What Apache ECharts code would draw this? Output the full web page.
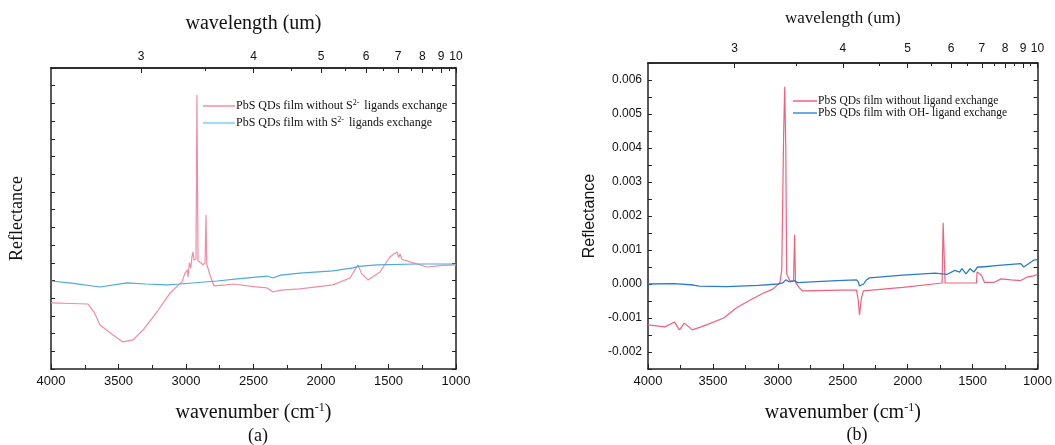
<!DOCTYPE html>
<html><head><meta charset="utf-8">
<script src="https://cdn.jsdelivr.net/npm/echarts@6/dist/echarts.min.js"></script>
<style>html,body{margin:0;padding:0;background:#fff}#c{width:1055px;height:445px}</style>
</head><body><div id="c"></div>
<script>
// ---- tick labels ----
const umTicks = [3, 4, 5, 6, 7, 8, 9, 10];
const umMinor = [3.5, 4.5, 5.5, 6.5, 7.5, 8.5, 9.5];

// ---- panel (a): wavenumber (cm-1) and reflectance (arb. units) ----
const aPinkWn  = [4000,3850,3726,3680,3637,3541,3467,3393,3319,3215,3119,3030,3007,2990,2985,2975,2965,2956,2948,2941,2926,2919,2911,2890,2874,2859,2852,2846,2822,2793,2700,2652,2500,2400,2356,2300,2156,1911,1785,1726,1700,1652,1563,1489,1460,1437,1425,1415,1400,1341,1215,1100,1000];
const aPinkVal = [3.73,3.70,3.67,3.2,2.49,1.92,1.53,1.64,2.20,3.22,4.29,4.92,5.42,5.6,5.2,6.0,5.7,6.33,6.61,6.16,6.2,15.48,6.1,6.0,5.88,6.0,8.70,5.9,5.31,4.69,4.75,4.80,4.65,4.58,4.35,4.45,4.52,4.75,5.14,5.88,5.4,5.03,5.48,6.33,6.5,6.61,6.3,6.5,6.2,6.05,5.76,5.85,5.88];
const aBlueWn  = [4000,3850,3637,3437,3300,3141,3044,2770,2600,2400,2356,2300,2156,1911,1763,1720,1585,1289,1000];
const aBlueVal = [4.97,4.85,4.63,4.86,4.8,4.75,4.80,4.97,5.1,5.25,5.14,5.3,5.42,5.54,5.71,5.8,5.88,5.93,5.93];

// ---- panel (b) ----
const bPinkWn  = [4000,3871,3795,3758,3720,3659,3591,3515,3417,3318,3212,3114,3038,2985,2970,2955,2947,2939,2932,2909,2879,2871,2864,2833,2811,2508,2394,2380,2371,2356,2341,2038,1735,1727,1712,1470,1466,1432,1409,1333,1280,1205,1129,1083,1030,1000];
const bPinkVal = [-0.0012,-0.00126,-0.00112,-0.00135,-0.00115,-0.00135,-0.00126,-0.00115,-0.0010,-0.0007,-0.00047,-0.00027,-0.00015,0.00003,0.0004,0.0045,0.0058,0.0040,0.0003,0.0001,0.00008,0.00145,0.00005,-0.00012,-0.0002,-0.00018,-0.00018,-0.0005,-0.00091,-0.0004,-0.0002,-0.0001,0.00003,0.0018,0.00003,0.00003,0.00035,0.00026,0.00005,0.00005,0.00015,0.00012,0.0001,0.0002,0.00024,0.00028];
const bBlueWn  = [4000,3800,3650,3606,3394,3151,3000,2962,2939,2909,2871,2848,2700,2545,2394,2380,2371,2340,2318,2295,2038,1788,1735,1700,1636,1600,1583,1550,1520,1490,1462,1432,1300,1129,1106,1030,1000];
const bBlueVal = [0,0.00001,-0.00003,-0.00006,-0.00008,-0.00004,0,0.00003,0.00012,0.00006,0.00010,0.00004,0.00007,0.00010,0.00012,0.00006,-0.00006,0,0.00012,0.00018,0.00026,0.00032,0.0003,0.00028,0.0004,0.00035,0.00045,0.0003,0.00045,0.00035,0.0005,0.0005,0.00055,0.0006,0.0005,0.0007,0.00072];

const zip = (a, b) => a.map((v, i) => [v, b[i]]);
const serif = '"Liberation Serif","DejaVu Serif",serif';
const sans = '"Liberation Sans","DejaVu Sans",sans-serif';
const axisLine = {show: true, onZero: false, lineStyle: {color: '#222', width: 1.5}};

function bottomX(grid) {
  return {type: 'value', gridIndex: grid, position: 'bottom', min: 1000, max: 4000, interval: 500, inverse: true,
    axisLine, splitLine: {show: false},
    axisTick: {show: true, inside: true, length: 5, lineStyle: {color: '#222'}},
    minorTick: {show: true, splitNumber: 2, length: 4, lineStyle: {color: '#222'}},
    axisLabel: {fontFamily: sans, fontSize: 13, color: '#111', margin: 6, showMinLabel: true, showMaxLabel: true,
      formatter: v => String(v)},
    name: '{t|wavenumber (cm}{s|-1}{t|)}', nameLocation: 'middle', nameGap: 33,
    nameTextStyle: {rich: {t: {fontFamily: serif, fontSize: 20, color: '#111'}, s: {fontFamily: serif, fontSize: 12, color: '#111', verticalAlign: 'top', padding: [0, 0, 10, 0]}}}
  };
}
function topX(grid, major, nameGap, nameSize, margin) {
  const vals = (major ? umTicks : umMinor).map(u => 10000 / u);
  const o = {type: 'value', gridIndex: grid, position: 'top', min: 1000, max: 4000, inverse: true,
    axisLine, splitLine: {show: false},
    axisTick: {show: true, inside: true, length: major ? 5 : 3, customValues: vals, lineStyle: {color: '#222'}},
    axisLabel: {show: major, customValues: vals, fontFamily: sans, fontSize: 12, color: '#111', margin: margin,
      formatter: v => String(Math.round(10000 / v))}
  };
  if (major) {
    o.name = 'wavelength (um)'; o.nameLocation = 'middle'; o.nameGap = nameGap;
    o.nameTextStyle = {fontFamily: serif, fontSize: nameSize, color: '#111'};
  }
  return o;
}

const option = {
  backgroundColor: '#fff',
  animation: false,
  title: [
    {text: '(a)', left: 253, top: 422, textAlign: 'center', textStyle: {fontFamily: serif, fontSize: 18, fontWeight: 'normal', color: '#111'}},
    {text: '(b)', left: 852, top: 421, textAlign: 'center', textStyle: {fontFamily: serif, fontSize: 18, fontWeight: 'normal', color: '#111'}}
  ],
  grid: [
    {left: 51, top: 68, width: 405, height: 301},
    {left: 648, top: 63, width: 395, height: 306}
  ],
  legend: [
    {left: 198, top: 94, orient: 'vertical', itemGap: 4, itemWidth: 32, itemHeight: 1.5, icon: 'rect',
      data: ['PbS QDs film without S2- ligands exchange', 'PbS QDs film with S2- ligands exchange'],
      formatter: n => '{t|' + n.replace('S2-', 'S}{s|2-}{t|') + '}',
      textStyle: {fontFamily: serif, fontSize: 12, color: '#111', padding: [0, 0, 0, -4],
        rich: {t: {fontFamily: serif, fontSize: 12, color: '#111'}, s: {fontFamily: serif, fontSize: 8, color: '#111', verticalAlign: 'top', padding: [0, 2, 6, 0]}}}},
    {left: 788, top: 90, orient: 'vertical', itemGap: 0, itemWidth: 24, itemHeight: 1.5, icon: 'rect',
      data: ['PbS QDs film without ligand exchange', 'PbS QDs film with OH- ligand exchange'],
      textStyle: {fontFamily: serif, fontSize: 11.5, color: '#111', padding: [0, 0, 0, -4]}}
  ],
  xAxis: [
    bottomX(0), topX(0, true, 34, 20, 5), topX(0, false),
    bottomX(1), topX(1, true, 36, 17, 8), topX(1, false)
  ],
  yAxis: [
    {type: 'value', gridIndex: 0, position: 'left', min: 0, max: 17, interval: 1, axisLine, splitLine: {show: false},
      axisTick: {show: true, inside: true, length: 4, lineStyle: {color: '#222'}}, axisLabel: {show: false},
      name: 'Reflectance', nameLocation: 'middle', nameGap: 25, nameTextStyle: {fontFamily: serif, fontSize: 18, color: '#111'}},
    {type: 'value', gridIndex: 0, position: 'right', min: 0, max: 17, interval: 1, axisLine, splitLine: {show: false},
      axisTick: {show: true, inside: true, length: 4, lineStyle: {color: '#222'}}, axisLabel: {show: false}},
    {type: 'value', gridIndex: 1, position: 'left', min: -0.0025, max: 0.0065, interval: 0.0005, axisLine, splitLine: {show: false},
      axisTick: {show: true, inside: true, length: 4, lineStyle: {color: '#222'}},
      axisLabel: {fontFamily: sans, fontSize: 12, color: '#111', margin: 6,
        formatter: v => (Math.round(v * 2000) % 2 === 0 ? v.toFixed(3) : '')},
      name: 'Reflectance', nameLocation: 'middle', nameGap: 50, nameTextStyle: {fontFamily: sans, fontSize: 16, color: '#111'}},
    {type: 'value', gridIndex: 1, position: 'right', min: -0.0025, max: 0.0065, interval: 0.0005, axisLine, splitLine: {show: false},
      axisTick: {show: true, inside: true, length: 4, lineStyle: {color: '#222'}}, axisLabel: {show: false}}
  ],
  series: [
    {name: 'PbS QDs film without S2- ligands exchange', type: 'line', xAxisIndex: 0, yAxisIndex: 0, data: zip(aPinkWn, aPinkVal),
      showSymbol: false, lineStyle: {color: '#f28ca3', width: 1.2}, itemStyle: {color: '#f28ca3'}},
    {name: 'PbS QDs film with S2- ligands exchange', type: 'line', xAxisIndex: 0, yAxisIndex: 0, data: zip(aBlueWn, aBlueVal),
      showSymbol: false, lineStyle: {color: '#4fa8de', width: 1.2}, itemStyle: {color: '#7fd0f0'}},
    {name: 'PbS QDs film without ligand exchange', type: 'line', xAxisIndex: 3, yAxisIndex: 2, data: zip(bPinkWn, bPinkVal),
      showSymbol: false, lineStyle: {color: '#f2607f', width: 1.2}, itemStyle: {color: '#f2607f'}},
    {name: 'PbS QDs film with OH- ligand exchange', type: 'line', xAxisIndex: 3, yAxisIndex: 2, data: zip(bBlueWn, bBlueVal),
      showSymbol: false, lineStyle: {color: '#2b7bcc', width: 1.3}, itemStyle: {color: '#3a90e0'}}
  ]
};
const chart = echarts.init(document.getElementById('c'), null, {renderer: 'canvas'});
chart.setOption(option);
</script></body></html>
